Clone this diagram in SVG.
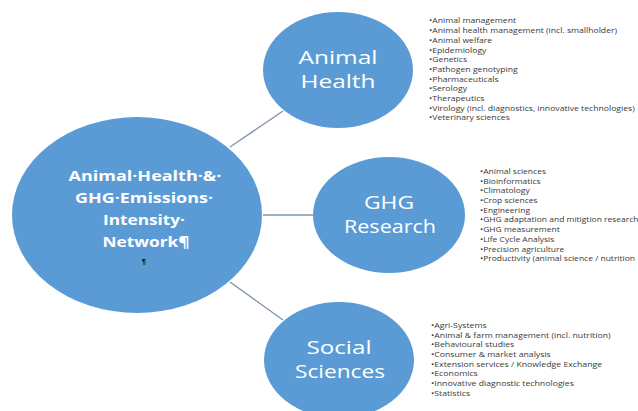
<svg xmlns="http://www.w3.org/2000/svg" width="638" height="411" viewBox="0 0 638 411">
<style>
.node{fill:#5b9bd5;}
.lbl{fill:#ffffff;font-family:"Open Sans","Liberation Sans",sans-serif;font-size:19px;text-anchor:middle;}
.main{fill:#ffffff;font-family:"Open Sans","Liberation Sans",sans-serif;font-size:15px;font-weight:bold;text-anchor:middle;}
.pil{fill:#000000;font-family:"Liberation Sans",sans-serif;font-size:7px;font-weight:bold;text-anchor:middle;}
.list{fill:#3a3a3a;font-family:"Open Sans","Liberation Sans",sans-serif;font-size:7.6px;}
.conn line{stroke:#7f93ab;stroke-width:1.3;}
</style>
<rect width="638" height="411" fill="#ffffff"/>
<g id="connectors" class="conn">
<line x1="230" y1="147" x2="283" y2="111"/>
<line x1="263" y1="215" x2="313" y2="215"/>
<line x1="230" y1="282" x2="283" y2="320"/>
</g>
<g id="network">
<ellipse class="node" cx="137" cy="215" rx="125" ry="98"/>
<text class="main" x="145" y="181" textLength="153" lengthAdjust="spacingAndGlyphs">Animal·Health·&amp;·</text>
<text class="main" x="144" y="203" textLength="138" lengthAdjust="spacingAndGlyphs">GHG·Emissions·</text>
<text class="main" x="144" y="225" textLength="82" lengthAdjust="spacingAndGlyphs">Intensity·</text>
<text class="main" x="146" y="247" textLength="87" lengthAdjust="spacingAndGlyphs">Network¶</text>
<text class="pil" x="144" y="264">¶</text>
</g>
<g id="animal-health">
<ellipse class="node" cx="338" cy="70" rx="75" ry="58"/>
<text class="lbl" x="338" y="64" textLength="79" lengthAdjust="spacingAndGlyphs">Animal</text>
<text class="lbl" x="338" y="88" textLength="75" lengthAdjust="spacingAndGlyphs">Health</text>
</g>
<g id="ghg-research">
<ellipse class="node" cx="389" cy="215" rx="76" ry="58"/>
<text class="lbl" x="389" y="209" textLength="50" lengthAdjust="spacingAndGlyphs">GHG</text>
<text class="lbl" x="390" y="233" textLength="92" lengthAdjust="spacingAndGlyphs">Research</text>
</g>
<g id="social-sciences">
<ellipse class="node" cx="339" cy="360" rx="75" ry="58"/>
<text class="lbl" x="339" y="354" textLength="65" lengthAdjust="spacingAndGlyphs">Social</text>
<text class="lbl" x="340" y="378" textLength="90" lengthAdjust="spacingAndGlyphs">Sciences</text>
</g>
<g id="animal-health-list" class="list" transform="translate(429,0) scale(1.14,1)">
<text x="0" y="23.5">•Animal management</text>
<text x="0" y="33.2">•Animal health management (incl. smallholder)</text>
<text x="0" y="42.9">•Animal welfare</text>
<text x="0" y="52.6">•Epidemiology</text>
<text x="0" y="62.3">•Genetics</text>
<text x="0" y="72">•Pathogen genotyping</text>
<text x="0" y="81.7">•Pharmaceuticals</text>
<text x="0" y="91.4">•Serology</text>
<text x="0" y="101.1">•Therapeutics</text>
<text x="0" y="110.8">•Virology (incl. diagnostics, innovative technologies)</text>
<text x="0" y="120.5">•Veterinary sciences</text>
</g>
<g id="ghg-research-list" class="list" transform="translate(480,0) scale(1.12,1)">
<text x="0" y="174">•Animal sciences</text>
<text x="0" y="183.7">•Bioinformatics</text>
<text x="0" y="193.4">•Climatology</text>
<text x="0" y="203.1">•Crop sciences</text>
<text x="0" y="212.8">•Engineering</text>
<text x="0" y="222.5">•GHG  adaptation and mitigtion research</text>
<text x="0" y="232.2">•GHG  measurement</text>
<text x="0" y="241.9">•Life Cycle Analysis</text>
<text x="0" y="251.6">•Precision agriculture</text>
<text x="0" y="261.3">•Productivity (animal science / nutrition</text>
</g>
<g id="social-sciences-list" class="list" transform="translate(431,0) scale(1.15,1)">
<text x="0" y="328">•Agri-Systems</text>
<text x="0" y="337.7">•Animal  &amp; farm management (incl. nutrition)</text>
<text x="0" y="347.4">•Behavioural studies</text>
<text x="0" y="357.1">•Consumer &amp; market analysis</text>
<text x="0" y="366.8">•Extension services / Knowledge Exchange</text>
<text x="0" y="376.5">•Economics</text>
<text x="0" y="386.2">•Innovative diagnostic technologies</text>
<text x="0" y="395.9">•Statistics</text>
</g>
</svg>
